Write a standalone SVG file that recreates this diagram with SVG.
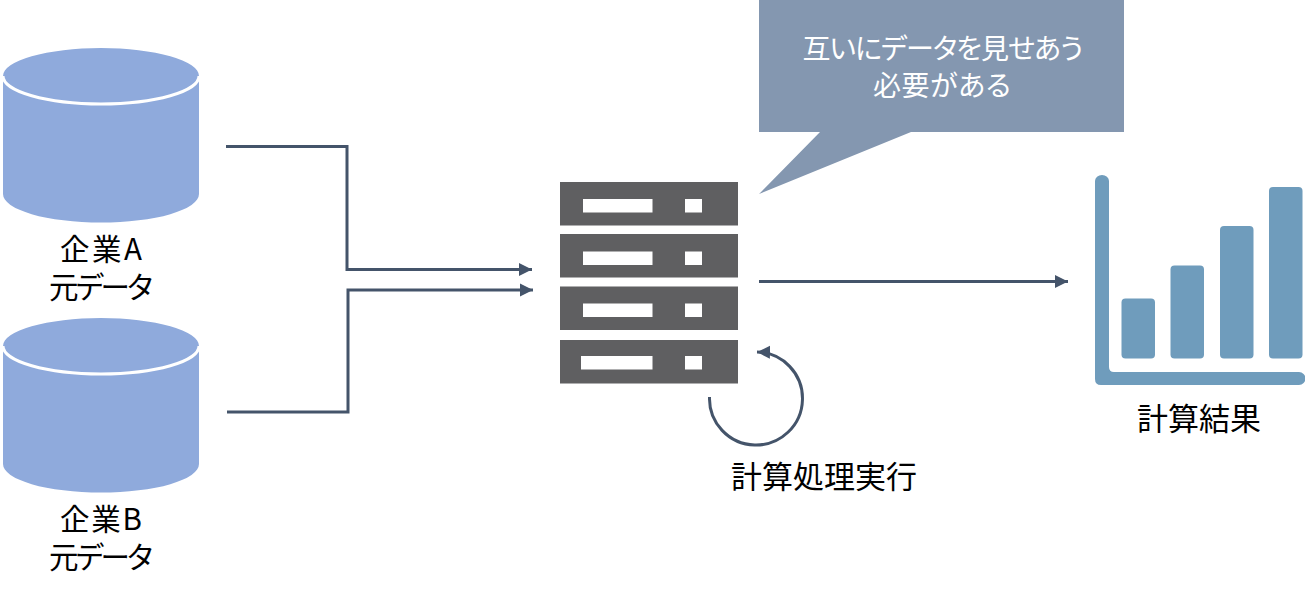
<svg xmlns="http://www.w3.org/2000/svg" width="1305" height="594" viewBox="0 0 1305 594">
<style>
.t{font-family:"Noto Sans CJK JP","Noto Sans",sans-serif;font-size:31px;font-weight:400;font-feature-settings:"palt";text-anchor:middle;fill:#000}
.l{font-size:29.500px}
.w{fill:#fff;font-size:28px}
.c{fill:none;stroke:#44546A;stroke-width:3}
.cyl{fill:#8FAADC}
.arc{fill:none;stroke:#fff;stroke-width:3}
.srv{fill:#5F5F61}
.hole{fill:#fff}
.bar{fill:#6F9CBC}
</style>
<defs>
<marker id="ah" markerUnits="userSpaceOnUse" markerWidth="15" markerHeight="15" refX="13" refY="7" orient="auto"><path d="M0 0.500L13 7L0 13.500Z" fill="#44546A"/></marker>
<path id="cy" d="M3 76A98 28 0 0 1 199 76V194A98 28.500 0 0 1 3 194Z"/>
</defs>
<g id="dbA">
<use href="#cy" class="cyl"/>
<path class="arc" d="M3 76A98 28 0 0 0 199 76"/>
<text class="t l" x="101" y="260" textLength="82">企業A</text>
<text class="t l" x="101" y="298" textLength="104">元データ</text>
</g>
<g id="dbB">
<use href="#cy" y="270" class="cyl"/>
<path class="arc" d="M3 346A98 28 0 0 0 199 346"/>
<text class="t l" x="101" y="530" textLength="82">企業B</text>
<text class="t l" x="101" y="568" textLength="104">元データ</text>
</g>
<g id="callout">
<path d="M759 0H1124V132H911L759 194L820 132H759Z" fill="#8497B0"/>
<text class="t w" x="943" y="59" textLength="281">互いにデータを見せあう</text>
<text class="t w" x="942" y="96" textLength="138">必要がある</text>
</g>
<g id="server">
<rect class="srv" x="560" y="182" width="178" height="43.500"/>
<rect class="srv" x="560" y="234" width="178" height="43.500"/>
<rect class="srv" x="560" y="286.500" width="178" height="43.500"/>
<rect class="srv" x="560" y="340" width="178" height="43.500"/>
<rect class="hole" x="583" y="199" width="69.500" height="13.500"/>
<rect class="hole" x="685" y="199" width="17" height="13.500"/>
<rect class="hole" x="583" y="251.500" width="69.500" height="13.500"/>
<rect class="hole" x="685" y="251.500" width="17" height="13.500"/>
<rect class="hole" x="583" y="303.500" width="69.500" height="13.500"/>
<rect class="hole" x="685" y="303.500" width="17" height="13.500"/>
<rect class="hole" x="581" y="356" width="71.500" height="13.500"/>
<rect class="hole" x="685" y="356" width="17" height="13.500"/>
<text class="t" x="824" y="488">計算処理実行</text>
</g>
<g id="chart">
<path class="bar" d="M1095 181A7 6 0 0 1 1109 181V367Q1109 372 1114 372H1299A6.500 6.500 0 0 1 1299 385H1101Q1095 385 1095 379Z"/>
<rect class="bar" x="1121.500" y="298.500" width="33.500" height="60" rx="4"/>
<rect class="bar" x="1170.500" y="265.500" width="33.500" height="93" rx="4"/>
<rect class="bar" x="1220" y="226" width="33.500" height="132.500" rx="4"/>
<rect class="bar" x="1269" y="187" width="33.500" height="171.500" rx="4"/>
<text class="t" x="1199" y="430">計算結果</text>
</g>
<g id="connectors">
<path class="c" marker-end="url(#ah)" d="M226 146.500H347V269.500H532"/>
<path class="c" marker-end="url(#ah)" d="M227 412H348V290H533"/>
<path class="c" marker-end="url(#ah)" d="M759 281.500H1068"/>
<path class="c" marker-end="url(#ah)" d="M709.500 397A46.500 46.500 0 1 0 757 352"/>
</g>
</svg>
